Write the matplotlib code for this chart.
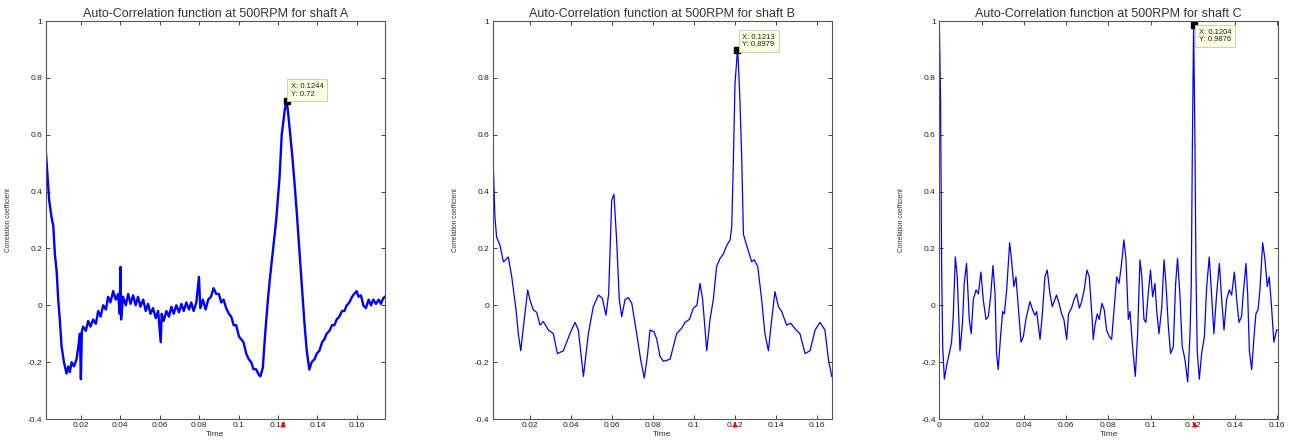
import numpy as np
import matplotlib
matplotlib.use("Agg")
import matplotlib.pyplot as plt
from matplotlib.ticker import FuncFormatter

plt.rcParams['font.family'] = ['Liberation Sans', 'DejaVu Sans']

# Shaft A (noisy auto-correlation)
time_a = [0.0023, 0.0039, 0.0051, 0.0060, 0.0068, 0.0077, 0.0085, 0.0094, 0.0102, 0.0114,
          0.0127, 0.0136, 0.0144, 0.0153, 0.0165, 0.0178, 0.0188, 0.0195, 0.0200, 0.0205,
          0.0212, 0.0225, 0.0237, 0.0249, 0.0262, 0.0276, 0.0288, 0.0300, 0.0313, 0.0327,
          0.0338, 0.0350, 0.0364, 0.0377, 0.0389, 0.0397, 0.0401, 0.0404, 0.0414, 0.0428,
          0.0440, 0.0452, 0.0465, 0.0478, 0.0490, 0.0502, 0.0516, 0.0529, 0.0541, 0.0553,
          0.0566, 0.0580, 0.0592, 0.0605, 0.0610, 0.0620, 0.0634, 0.0647, 0.0659, 0.0671,
          0.0684, 0.0698, 0.0710, 0.0722, 0.0735, 0.0749, 0.0760, 0.0772, 0.0786, 0.0799,
          0.0806, 0.0819, 0.0833, 0.0846, 0.0860, 0.0873, 0.0887, 0.0900, 0.0912, 0.0924,
          0.0937, 0.0951, 0.0963, 0.0975, 0.0988, 0.1002, 0.1014, 0.1025, 0.1039, 0.1052,
          0.1064, 0.1076, 0.1089, 0.1103, 0.1111, 0.1123, 0.1135, 0.1149, 0.1160, 0.1174,
          0.1191, 0.1208, 0.1219, 0.1228, 0.1235, 0.1244, 0.1251, 0.1258, 0.1272, 0.1284,
          0.1296, 0.1309, 0.1322, 0.1334, 0.1346, 0.1359, 0.1371, 0.1385, 0.1397, 0.1410,
          0.1424, 0.1435, 0.1447, 0.1461, 0.1474, 0.1486, 0.1498, 0.1511, 0.1525, 0.1537,
          0.1549, 0.1562, 0.1576, 0.1587, 0.1599, 0.1609, 0.1621, 0.1633, 0.1646, 0.1660,
          0.1672, 0.1684, 0.1697, 0.1711, 0.1722, 0.1734, 0.1743]
corr_a = [0.534, 0.37, 0.31, 0.28, 0.18, 0.12, 0.02, -0.06, -0.145, -0.20,
          -0.24, -0.215, -0.235, -0.20, -0.215, -0.19, -0.14, -0.10, -0.26, -0.09,
          -0.075, -0.09, -0.055, -0.075, -0.05, -0.065, -0.02, -0.04, 0.0, -0.015,
          0.03, 0.01, 0.05, 0.02, 0.04, -0.03, 0.135, -0.05, 0.03, 0.0,
          0.04, 0.005, 0.035, 0.0, 0.03, -0.005, 0.02, -0.02, 0.005, -0.03,
          -0.01, -0.045, -0.02, -0.13, -0.03, -0.055, -0.02, -0.04, -0.005, -0.03,
          0.0, -0.025, 0.005, -0.02, 0.01, -0.015, 0.01, -0.02, 0.01, 0.10,
          -0.01, 0.02, -0.015, 0.02, 0.03, 0.06, 0.04, 0.04, 0.01, 0.02,
          -0.01, -0.03, -0.04, -0.07, -0.07, -0.11, -0.12, -0.13, -0.17, -0.19,
          -0.20, -0.225, -0.225, -0.245, -0.25, -0.22, -0.10, 0.02, 0.10, 0.19,
          0.30, 0.45, 0.60, 0.65, 0.69, 0.72, 0.68, 0.63, 0.53, 0.43,
          0.32, 0.19, 0.06, -0.06, -0.16, -0.226, -0.20, -0.19, -0.17, -0.16,
          -0.13, -0.12, -0.10, -0.09, -0.07, -0.07, -0.05, -0.04, -0.02, -0.02,
          0.0, 0.01, 0.03, 0.04, 0.05, 0.03, 0.035, 0.0, -0.01, 0.02,
          0.0, 0.02, 0.005, 0.02, 0.005, 0.025, 0.03]

# Shaft B
time_b = [0.0018, 0.0021, 0.0029, 0.0037, 0.0054, 0.0070, 0.0081, 0.0094, 0.0111, 0.0132,
          0.0143, 0.0155, 0.0168, 0.0189, 0.0200, 0.0216, 0.0233, 0.0249, 0.0265, 0.0290,
          0.0314, 0.0334, 0.0363, 0.0395, 0.0420, 0.0436, 0.0461, 0.0485, 0.0509, 0.0534,
          0.0553, 0.0571, 0.0584, 0.0599, 0.0610, 0.0623, 0.0636, 0.0648, 0.0664, 0.0680,
          0.0697, 0.0721, 0.0740, 0.0758, 0.0773, 0.0786, 0.0806, 0.0819, 0.0835, 0.0851,
          0.0884, 0.0916, 0.0941, 0.0957, 0.0978, 0.0998, 0.1015, 0.1030, 0.1043, 0.1063,
          0.1079, 0.1095, 0.1111, 0.1128, 0.1144, 0.1160, 0.1177, 0.1185, 0.1193, 0.1201,
          0.1213, 0.1217, 0.1225, 0.1234, 0.1242, 0.1258, 0.1271, 0.1282, 0.1295, 0.1312,
          0.1331, 0.1347, 0.1364, 0.1380, 0.1396, 0.1413, 0.1429, 0.1453, 0.1473, 0.1499,
          0.1518, 0.1543, 0.1567, 0.1592, 0.1616, 0.1640, 0.1657, 0.1673]
corr_b = [0.733, 0.49, 0.31, 0.24, 0.21, 0.153, 0.16, 0.17, 0.10, -0.016,
          -0.10, -0.16, -0.075, 0.054, 0.019, -0.016, -0.025, -0.07, -0.057, -0.087,
          -0.10, -0.17, -0.16, -0.10, -0.06, -0.087, -0.25, -0.10, -0.005, 0.036,
          0.025, -0.035, 0.04, 0.37, 0.39, 0.23, 0.02, -0.04, 0.02, 0.027,
          0.007, -0.10, -0.19, -0.256, -0.18, -0.087, -0.093, -0.12, -0.18, -0.197,
          -0.19, -0.10, -0.08, -0.06, -0.05, -0.01, 0.0, 0.077, 0.02, -0.16,
          -0.05, 0.02, 0.136, 0.165, 0.18, 0.21, 0.23, 0.277, 0.51, 0.78,
          0.8979, 0.86, 0.72, 0.51, 0.25, 0.21, 0.18, 0.153, 0.16, 0.136,
          0.02, -0.10, -0.16, -0.05, 0.048, -0.005, -0.022, -0.07, -0.063, -0.087,
          -0.10, -0.17, -0.16, -0.087, -0.06, -0.087, -0.19, -0.25]

# Shaft C
time_c = [0.0, 0.0006, 0.0011, 0.0016, 0.0024, 0.0035, 0.0047, 0.0058, 0.0066, 0.0076,
          0.0085, 0.0098, 0.0110, 0.0118, 0.0129, 0.0142, 0.0151, 0.0161, 0.0174, 0.0185,
          0.0197, 0.0208, 0.0221, 0.0232, 0.0243, 0.0254, 0.0264, 0.0271, 0.0279, 0.0290,
          0.0300, 0.0308, 0.0319, 0.0333, 0.0342, 0.0353, 0.0363, 0.0374, 0.0387, 0.0398,
          0.0410, 0.0429, 0.0442, 0.0453, 0.0461, 0.0469, 0.0477, 0.0488, 0.0500, 0.0511,
          0.0524, 0.0535, 0.0555, 0.0567, 0.0579, 0.0590, 0.0603, 0.0612, 0.0626, 0.0638,
          0.0650, 0.0663, 0.0674, 0.0686, 0.0699, 0.0710, 0.0723, 0.0729, 0.0737, 0.0748,
          0.0757, 0.0770, 0.0781, 0.0792, 0.0805, 0.0816, 0.0828, 0.0840, 0.0851, 0.0863,
          0.0874, 0.0884, 0.0895, 0.0903, 0.0915, 0.0928, 0.0939, 0.0950, 0.0959, 0.0969,
          0.0978, 0.0989, 0.1000, 0.1010, 0.1021, 0.1029, 0.1040, 0.1053, 0.1064, 0.1073,
          0.1084, 0.1095, 0.1108, 0.1119, 0.1128, 0.1139, 0.1150, 0.1163, 0.1176, 0.1187,
          0.1193, 0.1198, 0.1204, 0.1210, 0.1215, 0.1221, 0.1231, 0.1242, 0.1255, 0.1266,
          0.1278, 0.1289, 0.1300, 0.1313, 0.1326, 0.1337, 0.1348, 0.1360, 0.1373, 0.1384,
          0.1397, 0.1408, 0.1419, 0.1431, 0.1439, 0.1452, 0.1460, 0.1468, 0.1479, 0.1490,
          0.1499, 0.1509, 0.1518, 0.1531, 0.1542, 0.1553, 0.1562, 0.1573, 0.1584, 0.1597,
          0.1605]
corr_c = [1.0, 0.72, 0.136, -0.145, -0.26, -0.21, -0.17, -0.13, -0.04, 0.17,
          0.10, -0.16, -0.06, 0.077, 0.147, -0.05, -0.10, 0.02, 0.054, 0.04,
          0.117, 0.02, -0.05, -0.04, 0.03, 0.14, 0.04, -0.17, -0.226, -0.11,
          -0.022, -0.03, 0.054, 0.22, 0.16, 0.066, 0.10, -0.005, -0.13, -0.11,
          -0.05, 0.013, -0.016, -0.035, -0.022, -0.07, -0.12, -0.03, 0.10, 0.124,
          0.04, -0.005, 0.036, 0.007, -0.03, -0.05, -0.12, -0.03, -0.01, 0.02,
          0.04, -0.01, 0.013, 0.054, 0.124, 0.10, -0.04, -0.12, -0.07, -0.03,
          -0.05, 0.007, -0.016, -0.087, -0.11, -0.12, -0.01, 0.10, 0.077, 0.147,
          0.23, 0.16, -0.05, -0.022, -0.145, -0.25, -0.10, 0.16, 0.10, -0.05,
          -0.06, 0.04, 0.124, 0.03, 0.077, -0.016, -0.10, -0.01, 0.16, 0.077,
          -0.07, -0.17, -0.145, 0.077, 0.165, 0.04, -0.145, -0.19, -0.27, -0.10,
          0.077, 0.545, 0.9876, 0.60, 0.136, -0.16, -0.26, -0.17, -0.11, 0.066,
          0.17, 0.04, -0.10, 0.04, 0.147, 0.02, -0.087, 0.02, 0.054, 0.036,
          0.117, 0.02, -0.06, -0.04, 0.04, 0.147, 0.04, -0.16, -0.226, -0.11,
          -0.03, -0.016, 0.054, 0.22, 0.16, 0.066, 0.10, -0.005, -0.13, -0.087,
          -0.087]

shafts = ["A", "B", "C"]
peak_x = [0.1244, 0.1213, 0.1204]
peak_y = [0.72, 0.8979, 0.9876]
cursor_x = [0.1226, 0.1201, 0.1210]
x_limits = [(0.0023, 0.1743), (0.0018, 0.1673), (0.0, 0.1605)]
x_ticks = [[0.02, 0.04, 0.06, 0.08, 0.1, 0.12, 0.14, 0.16],
           [0.02, 0.04, 0.06, 0.08, 0.1, 0.12, 0.14, 0.16],
           [0, 0.02, 0.04, 0.06, 0.08, 0.1, 0.12, 0.14, 0.16]]
y_ticks = [-0.4, -0.2, 0, 0.2, 0.4, 0.6, 0.8, 1]

series = [(time_a, corr_a), (time_b, corr_b), (time_c, corr_c)]
widths = [1.7, 0.9, 0.9]
lefts = [46, 492.7, 939.3]
tip_offsets = [((4, 3), 'bottom'), ((5, 2), 'bottom'), ((5, -4), 'top')]

W, H = 1293, 441
fig = plt.figure(figsize=(W / 100, H / 100), dpi=100)
fmt = FuncFormatter(lambda v, p: "%g" % v)

for i in range(3):
    ax = fig.add_axes([lefts[i] / W, 22 / H, 339 / W, 398 / H])
    t, c = series[i]
    ax.plot(t, c, color='#0000ff', lw=widths[i])
    ax.set_xlim(*x_limits[i])
    ax.set_ylim(-0.4, 1)
    ax.set_xticks(x_ticks[i])
    ax.set_yticks(y_ticks)
    ax.xaxis.set_major_formatter(fmt)
    ax.yaxis.set_major_formatter(fmt)
    ax.tick_params(direction='in', top=True, right=True, length=3, width=0.6,
                   labelsize=6, pad=2.5, colors='#222222')
    for s in ax.spines.values():
        s.set_color('#555555')
        s.set_linewidth(0.8)
    ax.set_title("Auto-Correlation function at 500RPM for shaft " + shafts[i],
                 fontsize=9, color='#333333', pad=3)
    ax.set_xlabel("Time", fontsize=6, color='#333333')
    ax.xaxis.set_label_coords(0.5, -0.031)
    ax.set_ylabel("Correlation coefficient", fontsize=4.8, color='#333333')
    ax.yaxis.set_label_coords(-0.1, 0.5)

    # datatip
    ax.plot([peak_x[i]], [peak_y[i]], 's', color='black', ms=4, clip_on=False)
    off, va = tip_offsets[i]
    ax.annotate("X: %g\nY: %g" % (peak_x[i], peak_y[i]), xy=(peak_x[i], peak_y[i]),
                xytext=off, textcoords='offset pixels', ha='left', va=va,
                fontsize=5.5, color='#222222', linespacing=1.1,
                bbox=dict(boxstyle='square,pad=0.5', fc='#ffffe1', ec='#c8c8b0', lw=0.6),
                annotation_clip=False)
    # red cursor arrow
    ax.annotate('', xy=(cursor_x[i], -0.4), xytext=(0, -10), textcoords='offset pixels',
                arrowprops=dict(arrowstyle='-|>', color='red', lw=0.8, mutation_scale=7),
                annotation_clip=False)

fig.savefig("out.png", dpi=100)
